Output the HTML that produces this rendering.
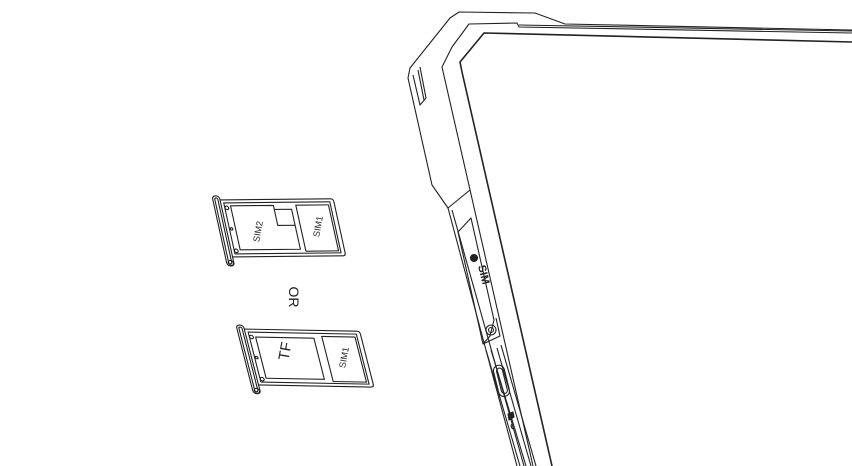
<!DOCTYPE html>
<html><head><meta charset="utf-8"><style>html,body{margin:0;padding:0;background:#fff}svg{display:block}</style></head>
<body>
<svg width="852" height="466" viewBox="0 0 852 466" xmlns="http://www.w3.org/2000/svg" fill="none" stroke="#222" stroke-width="1.1" stroke-linejoin="round" font-family="Liberation Sans, sans-serif">
<!-- phone -->
<polyline points="852,30 565,24 535,13 459,12 450,18 410,68 408,78 432,185 448,208 517,466"/>
<polyline points="852,31 519,25"/>
<polyline points="852,33 519,27 517,23 469,24 452,47 442,67 533,466"/>
<polyline points="852,42 484,33 460,62 462,72 552,466" stroke-width="1.6"/>
<polyline points="413,75 420,105 426,98 420,67"/>
<polyline points="418,70 424,100"/>
<line x1="448" y1="208" x2="470" y2="190"/>
<line x1="452" y1="210" x2="524" y2="466"/>
<path d="M458,232 L471,218 L494,320 L490,336 L483,344 Z"/>
<circle cx="474" cy="258" r="3.5" fill="#222"/>
<text x="0" y="0" font-size="11" font-weight="bold" fill="#222" stroke="none" transform="translate(478,266) rotate(76)">SIM</text>
<path d="M483,344 L500,336 L496,318" />
<circle cx="491" cy="330" r="5"/><circle cx="491" cy="330" r="2.5"/>
<line x1="486" y1="350" x2="520" y2="466"/>
<line x1="491" y1="350" x2="526" y2="466"/>
<line x1="497" y1="348" x2="531" y2="466"/>
<line x1="501" y1="345" x2="536" y2="466"/>
<rect x="496" y="365" width="11" height="32" rx="5.5" transform="rotate(-14 501 381)"/>
<rect x="499" y="368" width="6" height="26" rx="3" transform="rotate(-14 501 381)"/>
<path d="M508,414 l5,-2 l1,5 l-5,3 z" fill="#222"/>
<path d="M512,424 a3,3 0 0 0 2,5"/>
<!-- tray 1 -->
<g transform="matrix(1.02,-0.01,0.22,1.0,212,196)">
<rect x="0" y="0" width="7" height="70" rx="3"/>
<rect x="2" y="2" width="3" height="66" rx="1.5"/>
<circle cx="4" cy="67" r="2.5"/>
<path d="M7,4 H115 Q118,4 118,7 V58 Q118,61 115,61 H7"/>
<path d="M10,7 H114 V58 H10 Z"/>
<path d="M16,10 H58 V30 H75 V54 H16 Z"/>
<path d="M58,14 H75 V30"/>
<path d="M80,10 H112 V56 H80 Z"/>
<circle cx="12" cy="12" r="1.8"/><circle cx="12" cy="55" r="1.8"/>
<circle cx="12" cy="33" r="1.2"/>
</g>
<text font-size="9" fill="#222" stroke="none" text-anchor="middle" transform="translate(261,232) rotate(-80)">SIM2</text>
<text font-size="9" fill="#222" stroke="none" text-anchor="middle" transform="translate(321,227) rotate(-80)">SIM1</text>
<text font-size="14" fill="#222" stroke="none" text-anchor="middle" transform="translate(289,297) rotate(90)">OR</text>
<!-- tray 2 -->
<g transform="matrix(1.04,0.02,0.25,0.98,236,325)">
<rect x="0" y="0" width="7" height="70" rx="3"/>
<rect x="2" y="2" width="3" height="66" rx="1.5"/>
<circle cx="4" cy="67" r="2.5"/>
<path d="M7,4 H115 Q118,4 118,7 V58 Q118,61 115,61 H7"/>
<path d="M10,7 H114 V58 H10 Z"/>
<path d="M16,12 H72 V54 H16 Z"/>
<path d="M80,10 H112 V56 H80 Z"/>
<circle cx="12" cy="12" r="1.8"/><circle cx="12" cy="55" r="1.8"/>
<circle cx="12" cy="33" r="1.2"/>
</g>
<text font-size="15" fill="#222" stroke="none" text-anchor="middle" transform="translate(290,352) rotate(-80)">TF</text>
<text font-size="9" fill="#222" stroke="none" text-anchor="middle" transform="translate(347,358) rotate(-80)">SIM1</text>
</svg>
</body></html>
